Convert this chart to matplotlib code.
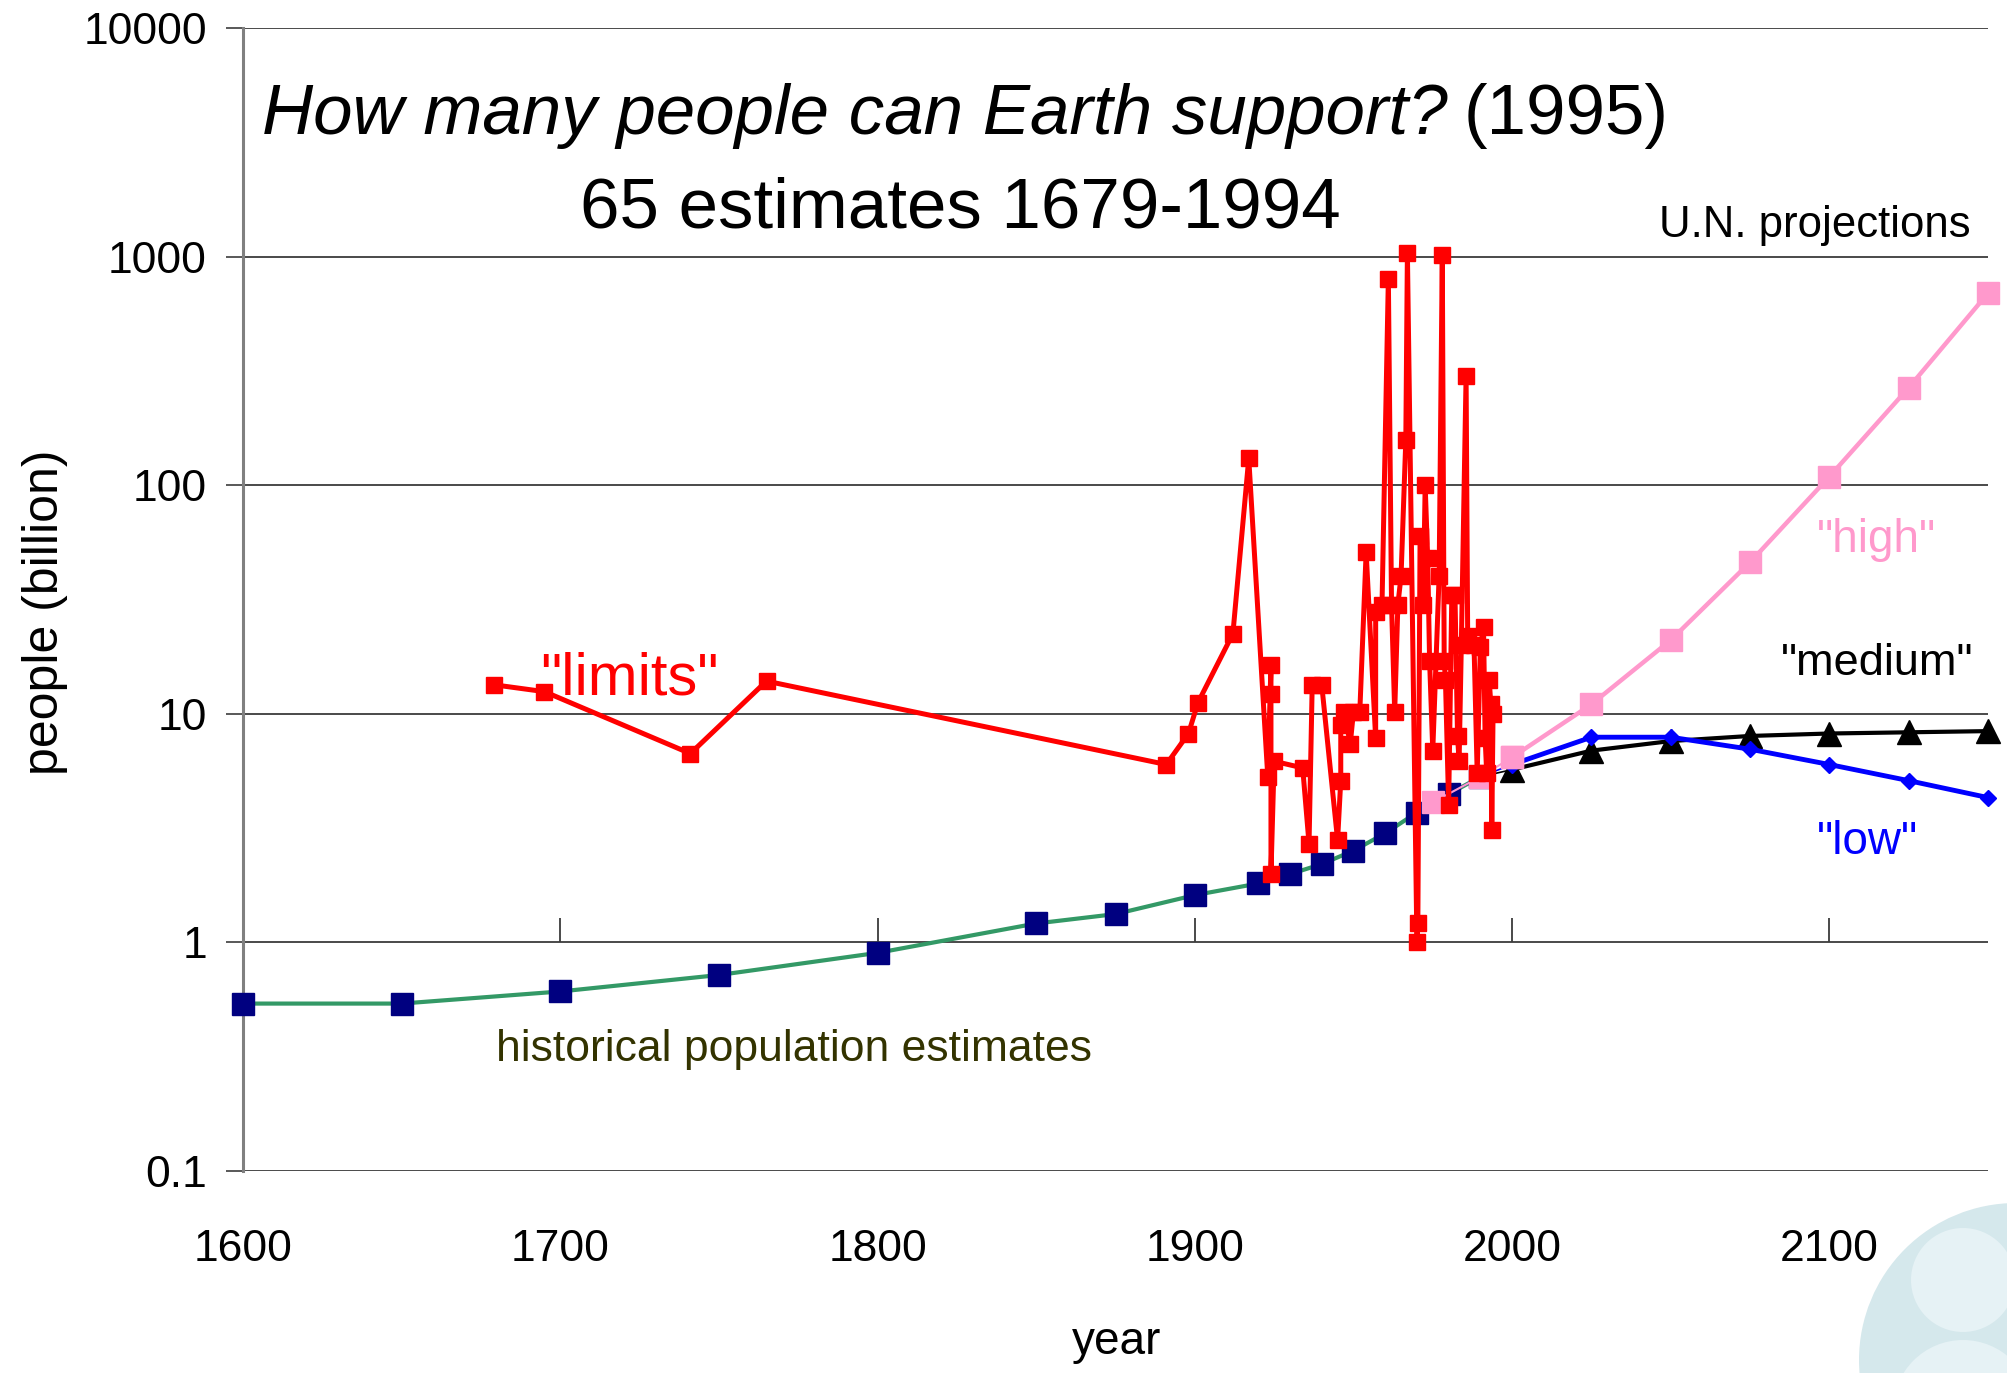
import matplotlib
matplotlib.use("Agg")
import matplotlib.pyplot as plt
from matplotlib import font_manager
from matplotlib.patches import Circle
from matplotlib.transforms import blended_transform_factory

# --------------------------------------------------------------
# data (population in billions)
# --------------------------------------------------------------
hist_years = [1600, 1650, 1700, 1750, 1800, 1850, 1875, 1900, 1920, 1930,
              1940, 1950, 1960, 1970, 1980, 1990]
hist_pop = [0.54, 0.54, 0.61, 0.72, 0.90, 1.21, 1.33, 1.61, 1.81, 1.99,
            2.2, 2.52, 3.0, 3.7, 4.45, 5.3]

# published estimates of the maximum supportable population
limit_years = [1679, 1695, 1741, 1765, 1891, 1898, 1901, 1912, 1917, 1923,
               1924, 1924, 1924, 1925, 1934, 1936, 1937, 1940, 1945, 1946,
               1946, 1947, 1949, 1950, 1952, 1954, 1957, 1957, 1959, 1961,
               1962, 1963, 1964, 1965, 1966.5, 1967, 1970, 1970.3, 1971, 1972,
               1972.6, 1973.4, 1974, 1975, 1977, 1978, 1978.6, 1979, 1980, 1981,
               1982, 1982.8, 1983.3, 1984, 1985.5, 1986, 1988, 1989, 1990, 1991,
               1991.5, 1992, 1992.8, 1993.3, 1993.6, 1994]
limit_pop = [13.4, 12.5, 6.7, 13.9, 6.0, 8.2, 11.2, 22.4, 131, 5.3,
             16.3, 12.2, 2.0, 6.2, 5.8, 2.7, 13.4, 13.4, 2.8, 5.1,
             8.9, 10.2, 7.4, 10.2, 10.2, 51, 7.8, 28, 30, 800,
             30, 10.2, 30, 40, 157, 1040, 1.0, 1.22, 60, 30,
             100, 48, 17, 6.9, 40, 1020, 17, 14, 4.0, 33,
             33, 8.0, 6.2, 20, 300, 22, 20, 5.5, 19.5, 24,
             7.8, 5.5, 14, 11, 3.1, 10]

# U.N. projections
un_years = [1975, 1990, 2000, 2025, 2050, 2075, 2100, 2125, 2150]
un_high = [4.1, 5.3, 6.45, 11.0, 21, 46, 109, 267, 692]
un_medium = [4.1, 5.3, 5.7, 6.9, 7.6, 8.0, 8.2, 8.3, 8.4]
un_low = [4.1, 5.3, 6.0, 7.9, 7.9, 7.0, 6.0, 5.1, 4.3]

y_ticks = [0.1, 1, 10, 100, 1000, 10000]
y_ticklabels = ["0.1", "1", "10", "100", "1000", "10000"]
x_ticks = [1600, 1700, 1800, 1900, 2000, 2100]

# --------------------------------------------------------------
# fonts
# --------------------------------------------------------------
installed = {f.name for f in font_manager.fontManager.ttflist}
SANS = "Liberation Sans"
NARROW = "Liberation Sans Narrow" if "Liberation Sans Narrow" in installed else SANS
plt.rcParams["font.family"] = [SANS, "DejaVu Sans"]

RED = "#ff0000"
NAVY = "#000080"
GREEN = "#339966"
PINK = "#ff99cc"
BLUE = "#0000ff"

W, H = 2007, 1373
fig = plt.figure(figsize=(W / 100, H / 100), dpi=100)
ax = fig.add_axes([243 / W, 1 - 1171 / H, (1988 - 243) / W, (1171 - 28) / H])

# decorative circles in the lower right corner
for (cx, cy, r, col) in [(2016, 1360, 157, "#d5e8ec"),
                         (1963, 1280, 52, "#e6f2f5"),
                         (1963, 1410, 70, "#e6f2f5")]:
    fig.add_artist(Circle((cx / 100, (H - cy) / 100), r / 100,
                          transform=fig.dpi_scale_trans, color=col,
                          zorder=0, lw=0))

ax.set_yscale("log")
ax.set_xlim(1600, 2150)
ax.set_ylim(0.1, 10000)
ax.patch.set_alpha(0)

# horizontal grid
for v in y_ticks:
    ax.axhline(v, color="#3c3c3c", lw=1.3, zorder=1)

# historical population
ax.plot(hist_years, hist_pop, color=GREEN, lw=3, zorder=2)
ax.plot(hist_years, hist_pop, ls="none", marker="s", ms=16, color=NAVY,
        mec=NAVY, zorder=3, clip_on=False)

# U.N. projections: thin early segment, thick projection
n0 = 3
ax.plot(un_years[:n0], un_medium[:n0], color="black", lw=1.2, marker="^",
        ms=6, zorder=4)
ax.plot(un_years[:n0], un_low[:n0], color=BLUE, lw=1.2, zorder=4)
ax.plot(un_years[:n0], un_high[:n0], color=PINK, lw=1.5, marker="s", ms=16,
        zorder=5)
ax.plot(un_years[n0 - 1:], un_medium[n0 - 1:], color="black", lw=3,
        marker="^", ms=17, zorder=4, clip_on=False)
ax.plot(un_years[n0 - 1:], un_low[n0 - 1:], color=BLUE, lw=3.5,
        marker="D", ms=8, zorder=4, clip_on=False)
ax.plot(un_years[n0 - 1:], un_high[n0 - 1:], color=PINK, lw=3.2,
        marker="s", ms=16, zorder=5, clip_on=False)

# estimates of the limit
ax.plot(limit_years, limit_pop, color=RED, lw=3.6, marker="s", ms=11.5,
        zorder=6)

# axes styling
for s in ["top", "right", "bottom"]:
    ax.spines[s].set_visible(False)
ax.spines["left"].set_color("#808080")
ax.spines["left"].set_linewidth(2.2)

ax.set_yticks(y_ticks)
ax.set_yticklabels(y_ticklabels)
ax.yaxis.set_minor_locator(matplotlib.ticker.NullLocator())
ax.tick_params(axis="y", length=12, width=1.2, color="#3c3c3c",
               labelsize=32, pad=14)
ax.set_xticks(x_ticks)
ax.set_xticklabels([str(x) for x in x_ticks])
ax.tick_params(axis="x", length=0, labelsize=32, pad=42)

# category axis crosses at 1: short tick marks on that line
tr = blended_transform_factory(ax.transData, ax.transAxes)
ax.vlines(x_ticks[1:], 0.2, 0.221, transform=tr, color="#3c3c3c", lw=1.3,
          zorder=1)

# series labels
ax.text(1693.5, 12.2, '"limits"', color=RED, fontsize=43, family=NARROW,
        va="baseline")
ax.text(2096, 51, '"high"', color=PINK, fontsize=33, family=NARROW,
        va="baseline")
ax.text(2084.7, 14.8, '"medium"', color="black", fontsize=32.5, family=NARROW,
        va="baseline")
ax.text(2096, 2.44, '"low"', color=BLUE, fontsize=33, family=NARROW,
        va="baseline")
ax.text(1679.8, 0.303, "historical population estimates", color="#333300",
        fontsize=32, family=NARROW, va="baseline")
ax.text(2144.4, 1222, "U.N. projections", color="black", fontsize=31.5,
        family=NARROW, va="baseline", ha="right")

# titles and axis labels
t1 = fig.text(262 / W, 1 - 134 / H, "How many people can Earth support?",
              fontsize=51, style="italic", va="baseline")
fig.canvas.draw()
bb = t1.get_window_extent()
fig.text((bb.x1 + 16) / W, 1 - 134 / H, "(1995)", fontsize=51,
         va="baseline")
fig.text(960 / W, 1 - 227 / H, "65 estimates 1679-1994", fontsize=51,
         va="baseline", ha="center")
fig.text(1117 / W, 1 - 1354 / H, "year", fontsize=33, family=NARROW,
         va="baseline", ha="center")
fig.text(45 / W, 1 - 612 / H, "people (billion)", fontsize=36, family=NARROW,
         rotation=90, va="center", ha="center")

fig.savefig("out.png", dpi=100)
